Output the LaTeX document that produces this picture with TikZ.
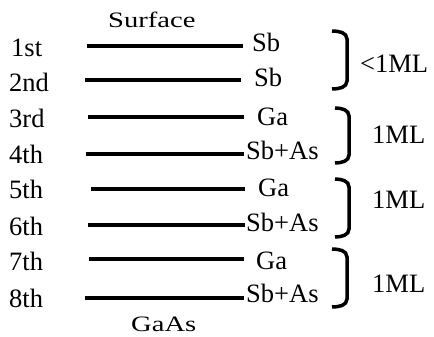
\documentclass[tikz,border=0pt]{standalone}
\usepackage{fontspec}
\setmainfont{Liberation Serif}
\newfontfamily\widefont[FakeStretch=1.3]{Liberation Serif}
\begin{document}
\begin{tikzpicture}[x=1pt,y=-1pt,
  lbl/.style={font=\fontsize{26.5}{26.5}\selectfont, inner sep=0pt, anchor=base west},
  wlbl/.style={font=\widefont\fontsize{22}{22}\selectfont, inner sep=0pt, anchor=base west},
  layer/.style={line width=4pt},
  brk/.style={line width=3.5pt}]
\useasboundingbox (0,0) rectangle (434,337);
% layers
\foreach \n/\xa/\xb/\y in {1/87/243/46, 2/85/241/80, 3/88/244/117, 4/86/244/154, 5/91/245/189, 6/88/245/225, 7/89/244/259, 8/85/244/298}{
  \coordinate (a\n) at (\xa,\y);
  \coordinate (b\n) at (\xb,\y);
  \draw[layer] (a\n) -- (b\n);
}
% left labels
\node[lbl] (l1) at (11,57) {1st};
\node[lbl] (l2) at (9,92) {2nd};
\node[lbl] (l3) at (9,128) {3rd};
\node[lbl] (l4) at (9,163) {4th};
\node[lbl] (l5) at (9,198) {5th};
\node[lbl] (l6) at (9,235) {6th};
\node[lbl] (l7) at (9,270) {7th};
\node[lbl] (l8) at (9,307) {8th};
% right labels
\node[lbl] (r1) at (252,52) {Sb};
\node[lbl] (r2) at (254,87) {Sb};
\node[lbl] (r3) at (257,125) {Ga};
\node[lbl] (r4) at (246,159) {Sb+As};
\node[lbl] (r5) at (258,196) {Ga};
\node[lbl] (r6) at (246,231) {Sb+As};
\node[lbl] (r7) at (256,269) {Ga};
\node[lbl] (r8) at (246,302) {Sb+As};
% top/bottom labels
\node[wlbl] (surf) at (108,28) {Surface};
\node[wlbl] (gaas) at (131,331) {GaAs};
% brackets
\foreach \i/\xa/\xb/\ya/\yb in {1/332/347/31/89, 2/335/349/108/163, 3/335/349/179/237, 4/332/347/249/307}{
  \coordinate (bt\i) at (\xa,\ya);
  \coordinate (bb\i) at (\xa,\yb);
  \draw[brk] (bt\i) to[out=0,in=90] (\xb,\ya+8) -- (\xb,\yb-8) to[out=-90,in=0] (bb\i);
}
\node[lbl] (m1) at (360,73) {<1ML};
\node[lbl] (m2) at (372,143) {1ML};
\node[lbl] (m3) at (372,208) {1ML};
\node[lbl] (m4) at (372,292) {1ML};
\end{tikzpicture}
\end{document}
